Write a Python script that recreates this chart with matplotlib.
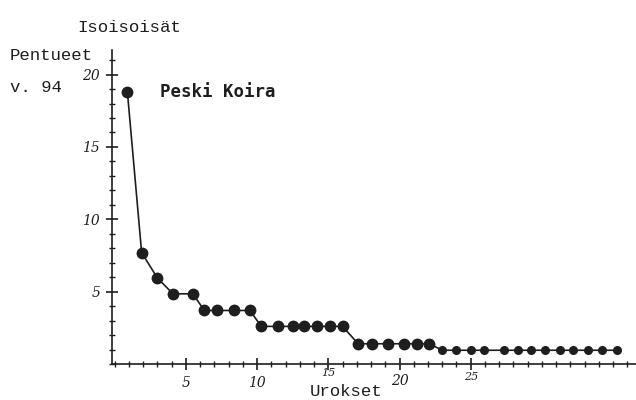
import numpy as np
import matplotlib
matplotlib.use("Agg")
from matplotlib import pyplot as plt
from matplotlib import transforms
from matplotlib.ticker import MultipleLocator

# Urokset (rank positions as drawn) and litters per male
xPos = [0.9, 1.9, 3.0, 4.1, 5.5, 6.3, 7.2, 8.4, 9.5, 10.3, 11.5, 12.5, 13.3, 14.2,
        15.1, 16.0, 17.1, 18.1, 19.2, 20.3, 21.2, 22.1, 23.0, 24.0, 25.0, 25.9,
        27.3, 28.3, 29.2, 30.2, 31.3, 32.2, 33.2, 34.2, 35.3]
litters = [18.8, 7.7, 5.95, 4.85, 4.85, 3.7, 3.7, 3.7, 3.7, 2.6, 2.6, 2.6, 2.6, 2.6,
           2.6, 2.6, 1.4, 1.4, 1.4, 1.4, 1.4, 1.4, 0.95, 0.95, 0.95, 0.95, 0.95,
           0.95, 0.95, 0.95, 0.95, 0.95, 0.95, 0.95, 0.95]
xTicks = [5, 10, 15, 20, 25]
yTicks = [5, 10, 15, 20]

ink = '#1e1e1e'
mono = 'Liberation Mono'
hand = dict(fontfamily='DejaVu Serif', fontstyle='italic', color=ink)

fig = plt.figure(figsize=(6.36, 4.0), dpi=100)
ax = fig.add_axes([0.1761, 0.09, 0.8239, 0.785])

#Line and dots
ax.plot(xPos, litters, color=ink, lw=1.2)
ax.plot(xPos[:22], litters[:22], 'o', color=ink, ms=7.5)
ax.plot(xPos[22:], litters[22:], 'o', color=ink, ms=5.5)

ax.set_xlim(-0.18, 36.6)
ax.set_ylim(0, 21.7)

#Axes like hand drawn crosses
for s in ['top', 'right']:
    ax.spines[s].set_visible(False)
for s in ['left', 'bottom']:
    ax.spines[s].set_color(ink)
    ax.spines[s].set_linewidth(1.2)

ax.set_xticks(xTicks)
ax.set_yticks(yTicks)
ax.xaxis.set_minor_locator(MultipleLocator(1))
ax.yaxis.set_minor_locator(MultipleLocator(1))
ax.tick_params(which='major', direction='inout', length=9, width=1.2, color=ink)
ax.tick_params(which='minor', direction='inout', length=5, width=1.0, color=ink)
ax.set_xticklabels([])
ax.set_yticklabels([str(t) for t in yTicks], fontsize=10, **hand)
ax.tick_params(axis='y', pad=4)

#Hand written x labels sit at uneven heights
trans = transforms.blended_transform_factory(ax.transData, fig.transFigure)
labY = [383, 383, 373, 381, 377]
labSize = [10, 10, 8, 10, 8]
for t, py, fs in zip(xTicks, labY, labSize):
    ax.text(t, 1 - py/400, str(t), transform=trans, ha='center', va='center',
            fontsize=fs, **hand)

#Texts
fig.text(77/636, 1 - 27/400, 'Isoisoisät', fontfamily=mono, fontsize=12.5,
         color=ink, va='center', ha='left')
fig.text(10/636, 1 - 55/400, 'Pentueet', fontfamily=mono, fontsize=12.5,
         color=ink, va='center', ha='left')
fig.text(10/636, 1 - 87/400, 'v. 94', fontfamily=mono, fontsize=12.5,
         color=ink, va='center', ha='left')
fig.text(160/636, 1 - 92/400, 'Peski Koira', fontfamily='DejaVu Sans Mono',
         fontweight='bold', fontsize=12.5, color=ink, va='center', ha='left')
fig.text(310/636, 1 - 391/400, 'Urokset', fontfamily=mono, fontsize=12.5,
         color=ink, va='center', ha='left')

fig.savefig('out.png', dpi=100, facecolor='white')
